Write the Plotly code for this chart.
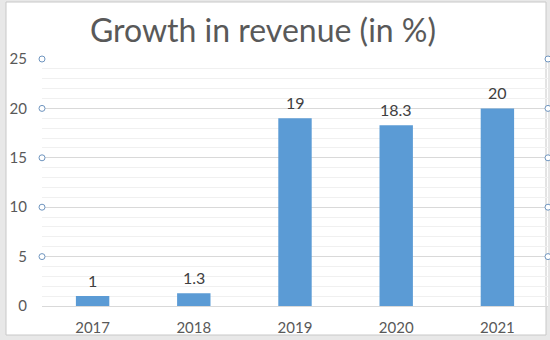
import plotly.graph_objects as go

years = ["2017", "2018", "2019", "2020", "2021"]
growth = [1, 1.3, 19, 18.3, 20]
labels = ["1", "1.3", "19", "18.3", "20"]
handle_ticks = [5, 10, 15, 20, 25]
y_max = 25

W, H = 550, 340
ml, mr, mt, mb = 42, 2, 59, 34
pw = W - ml - mr
ph = H - mt - mb

def px_x(p):
    return (p - ml) / pw

def px_y(p):
    return (H - mb - p) / ph

FONT = "Lato, Noto Sans, sans-serif"

fig = go.Figure()
fig.add_trace(go.Bar(
    x=years, y=growth,
    marker=dict(color="#5B9BD5", line=dict(width=0)),
    width=0.33, hoverinfo="skip",
))

annotations = []
for i, (v, lab) in enumerate(zip(growth, labels)):
    annotations.append(dict(x=i, y=v, xref="x", yref="y", text=lab, showarrow=False,
                            yshift=16, yanchor="middle",
                            font=dict(family=FONT, size=16, color="#404040")))

shapes = []
# outer frame (screenshot chrome)
shapes.append(dict(type="rect", xref="paper", yref="paper",
                   x0=px_x(6), x1=px_x(546), y0=px_y(335), y1=px_y(2),
                   fillcolor="white", line=dict(color="#C8C8C8", width=1), layer="below"))
# selection handles
for t in handle_ticks:
    for xp in (0, 1):
        shapes.append(dict(type="circle", xref="paper", yref="paper",
                           xsizemode="pixel", ysizemode="pixel",
                           xanchor=xp, yanchor=t / y_max,
                           x0=-3, x1=3, y0=-3, y1=3,
                           fillcolor="white", line=dict(color="#6F95BF", width=1)))

fig.update_layout(
    width=W, height=H,
    margin=dict(l=ml, r=mr, t=mt, b=mb),
    paper_bgcolor="#E8E8E8", plot_bgcolor="white",
    showlegend=False,
    bargap=0.67,
    title=dict(text="Growth in revenue (in %)", x=263 / W, xref="container", xanchor="center",
               y=1 - 31 / H, yref="container", yanchor="middle",
               font=dict(family=FONT, size=32, color="#595959")),
    shapes=shapes,
    annotations=annotations,
    xaxis=dict(type="category", range=[-0.5, 4.5], showgrid=False,
               showline=True, linecolor="#D9D9D9", linewidth=1,
               ticks="", ticklabelstandoff=8,
               tickfont=dict(family=FONT, size=15, color="#595959")),
    yaxis=dict(range=[0, y_max], dtick=5, showgrid=True, gridcolor="#D9D9D9", gridwidth=1,
               zeroline=False, showline=False, ticks="", ticklabelstandoff=14,
               minor=dict(dtick=1, showgrid=True, gridcolor="#F0F0F0", gridwidth=1),
               tickfont=dict(family=FONT, size=15, color="#595959")),
)

fig.write_html("out.html")
